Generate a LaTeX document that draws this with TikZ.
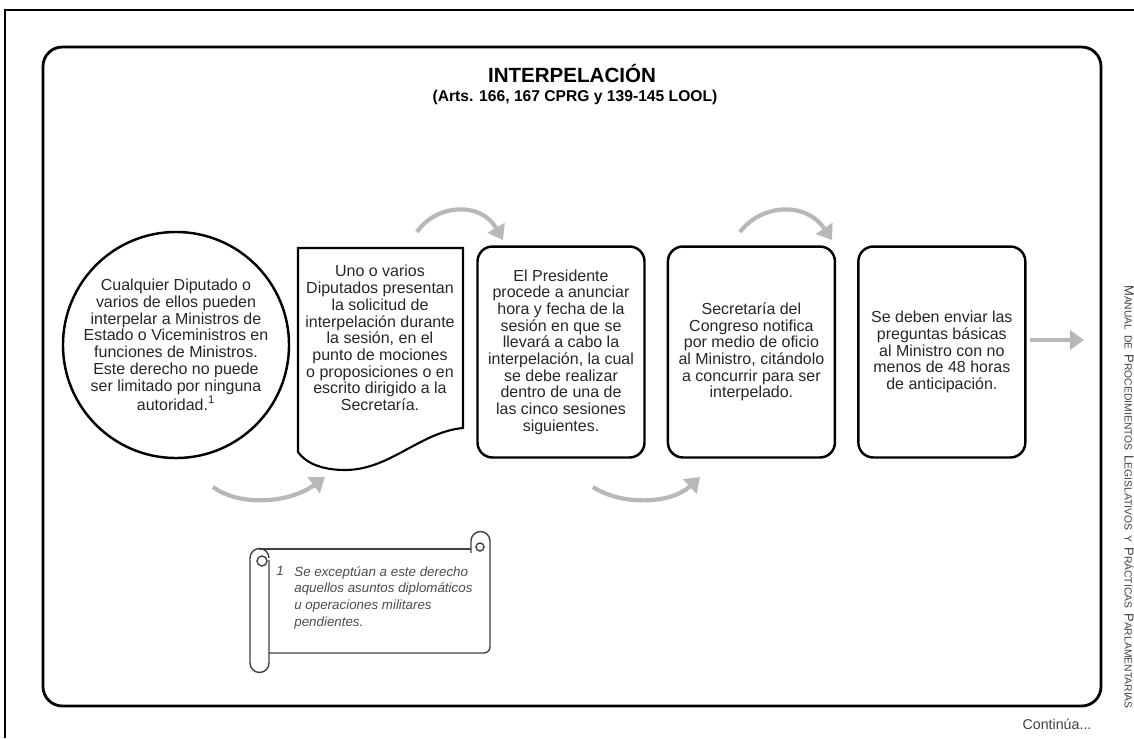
\documentclass[tikz,border=0pt]{standalone}
\usepackage{fontspec}
\setmainfont{Liberation Sans}
\usepackage{tikz}
\usetikzlibrary{calc}
\usetikzlibrary{arrows.meta}
\usetikzlibrary{positioning}
\tikzset{Box/.style={rectangle,rounded corners=8.5pt,draw=black,line width=1.4pt,align=center,font=\fontsize{9.1}{9.5}\selectfont,text=black!85,minimum width=3.34cm,minimum height=4.22cm,inner sep=0pt}}
\tikzset{Circ/.style={circle,draw=black,line width=1.4pt,align=center,font=\fontsize{9.1}{9.5}\selectfont,text=black!85,minimum size=4.44cm,inner sep=0pt}}
\tikzset{Txt/.style={align=center,font=\fontsize{9.1}{9.5}\selectfont,text=black!85,inner sep=0pt}}
\tikzset{Note/.style={align=left,font=\fontsize{7.6}{9.5}\selectfont\itshape,text=black!70,inner sep=0pt}}
\tikzset{flow/.style={draw=black!28,line width=2.4pt,-{Triangle[length=8pt,width=11pt]}}}
\tikzset{scroll/.style={draw=black!75,line width=0.8pt}}
\newcommand{\fakesc}[2]{{\fontsize{7.4}{8}\selectfont #1}{\fontsize{5.9}{8}\selectfont #2}}

\begin{document}
\begin{tikzpicture}[x=0.02cm,y=-0.02cm]
\useasboundingbox (0,0) rectangle (1134,738);

% page and frame
\draw[line width=1pt] (5,738) -- (5,10) -- (1134,10);
\draw[line width=1.6pt,rounded corners=11pt] (43,47) rectangle (1101,706);

\node[font=\fontsize{11.7}{14}\selectfont\bfseries] (title) at (572,73) {INTERPELACIÓN};
\node[font=\fontsize{8.9}{11}\selectfont\bfseries] (arts) at (575,97) {(Arts. 166, 167 CPRG y 139-145 LOOL)};

% steps
\node[Circ] (ask) at (176,345) {Cualquier Diputado o\\varios de ellos pueden\\interpelar a Ministros de\\Estado o Viceministros en\\funciones de Ministros.\\Este derecho no puede\\ser limitado por ninguna\\autoridad.\textsuperscript{1}};

\node[Txt] (req) at (380,338) {Uno o varios\\Diputados presentan\\la solicitud de\\interpelación durante\\la sesión, en el\\punto de mociones\\o proposiciones o en\\escrito dirigido a la\\Secretaría.};
\draw[line width=1.2pt] (298,248) -- (463,248) -- (463,428)
  .. controls (420,432) and (390,470) .. (345,470)
  .. controls (320,470) and (305,462) .. (298,452) -- cycle;

\node[Box] (pres) at (561,352) {El Presidente\\procede a anunciar\\hora y fecha de la\\sesión en que se\\llevará a cabo la\\interpelación, la cual\\se debe realizar\\dentro de una de\\las cinco sesiones\\siguientes.};
\node[Box,right=0.42cm of pres] (notif) {Secretaría del\\Congreso notifica\\por medio de oficio\\al Ministro, citándolo\\a concurrir para ser\\interpelado.};
\node[Box,right=0.42cm of notif] (quest) {Se deben enviar las\\preguntas básicas\\al Ministro con no\\menos de 48 horas\\de anticipación.};

% arrows
\coordinate (s1) at (213,487); \coordinate (c1) at (240,507); \coordinate (d1) at (290,503); \coordinate (t1) at (325,477);
\coordinate (s2) at (417,232); \coordinate (c2) at (435,205); \coordinate (d2) at (480,200); \coordinate (t2) at (503,240);
\coordinate (s3) at (593,487); \coordinate (c3) at (620,505); \coordinate (d3) at (670,505); \coordinate (t3) at (700,477);
\coordinate (s4) at (740,232); \coordinate (c4) at (760,205); \coordinate (d4) at (805,200); \coordinate (t4) at (832,240);
\foreach \k in {1,...,4}
  {
  \draw[flow] (s\k) .. controls (c\k) and (d\k) .. (t\k);
  }
\coordinate (s5) at (1030,340); \coordinate (t5) at (1084,340);
\draw[flow] (s5) -- (t5);

% footnote scroll
\draw[scroll] (259,549) -- (471,549);
\draw[scroll] (471,553) -- (471,541) arc[start angle=180,end angle=360,radius=9.5];
\draw[scroll,rounded corners=3.5pt] (490,541) -- (490,653) -- (269,653);
\draw[scroll] (480,547) circle[radius=4];
\draw[scroll] (269,560) -- (269,663) arc[start angle=0,end angle=180,radius=9.5] -- (250,558)
  arc[start angle=180,end angle=360,radius=9.5];
\draw[scroll] (262,561) circle[radius=5];
\node[Note,anchor=north west] (fnum) at (276,566) {1};
\node[Note,anchor=north west] (note) at (294,566) {Se exceptúan a este derecho\\aquellos asuntos diplomáticos\\u operaciones militares\\pendientes.};

\node[rotate=-90,text=black!75] (manual) at (1129,497) {\fakesc{M}{ANUAL} \fakesc{}{DE} \fakesc{P}{ROCEDIMIENTOS} \fakesc{L}{EGISLATIVOS} \fakesc{}{Y} \fakesc{P}{RÁCTICAS} \fakesc{P}{ARLAMENTARIAS}};
\node[font=\fontsize{8.1}{10}\selectfont,text=black!75] (cont) at (1057,724) {Continúa...};
\end{tikzpicture}
\end{document}
